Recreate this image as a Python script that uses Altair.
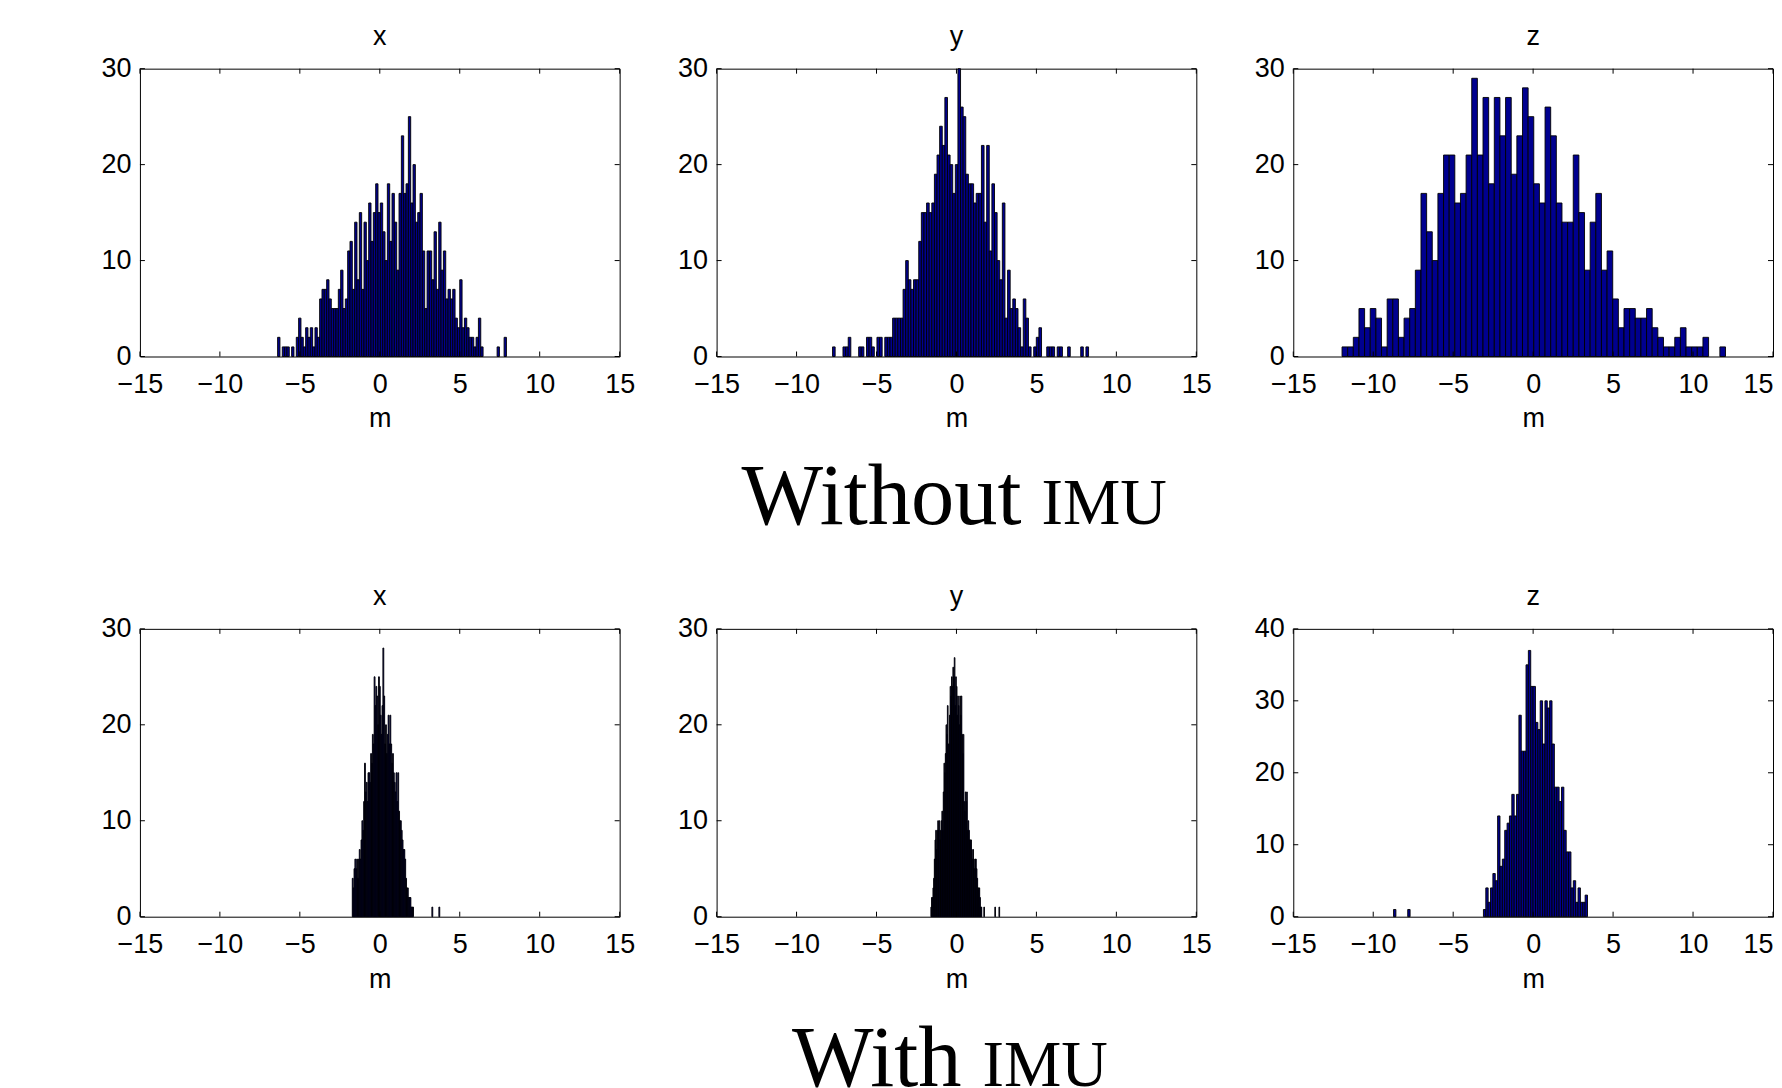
import altair as alt
import pandas as pd

# ---------------- data ----------------
X_TICKS = [-15, -10, -5, 0, 5, 10, 15]
Y_TICKS_30 = [0, 10, 20, 30]
Y_TICKS_40 = [0, 10, 20, 30, 40]
PANEL_TITLES = ["x", "y", "z", "x", "y", "z"]
ROW_TITLES = [("Without", "IMU"), ("With", "IMU")]
X_AXIS_TITLE = "m"

# top row: without IMU
TOP_X_RANGE = [-6.39, 7.92]
TOP_X_COUNTS = [2, 0, 1, 1, 1, 0, 1, 0, 2, 4, 2, 1, 3, 2, 3, 1, 3, 2, 6, 7,
                7, 8, 6, 5, 5, 5, 7, 9, 5, 6, 11, 12, 7,
                14, 8, 15, 7, 14, 10, 16, 12, 15, 18, 15, 16, 13, 10, 18, 12, 17, 14,
                9, 17, 23, 17, 18, 25, 16, 20, 14, 15, 17, 11, 5, 11,
                11, 8, 13, 7, 14, 9, 11, 6, 7, 6, 7, 4, 3, 8, 3, 4, 3, 2, 2, 1,
                2, 4, 1, 0, 0, 0, 0, 0, 0, 1, 0, 0, 2]

TOP_Y_RANGE = [-7.75, 8.26]
TOP_Y_COUNTS = [1, 0, 0, 0, 1, 1, 2, 0, 0, 0, 1, 1, 0, 2, 2, 1, 0, 2, 2, 0,
                2, 2, 2, 4, 4, 4, 4, 7, 10, 8, 7, 8,
                8, 12, 15, 15, 16, 15, 16, 19, 21, 24, 22, 27, 21, 20, 17, 20, 30, 26,
                25, 19, 18, 18, 16, 17, 17, 22, 14, 22, 11, 18, 15, 10, 8, 16, 4, 9,
                5, 6, 5, 3, 1, 6, 4, 1, 0, 1, 2, 3, 0, 0, 1, 1, 1, 0, 1, 1, 0, 0,
                1, 0, 0, 0, 0, 1, 0, 1]

TOP_Z_RANGE = [-11.95, 12.03]
TOP_Z_COUNTS = [1, 1, 2, 5, 3, 5, 4, 1, 6, 6, 2, 4, 5, 9, 17, 13, 10, 17, 21, 21,
                16, 17, 21, 29, 21, 27, 18, 27, 23, 27, 19, 23, 28, 25, 18, 16, 26, 23, 16, 14,
                14, 21, 15, 9, 14, 17, 9, 11, 6, 3, 5, 5, 4, 4, 5, 3, 2, 1, 1, 2,
                3, 1, 1, 1, 2, 0, 0, 1]

# bottom row: with IMU
BOT_X_RANGE = [-1.72, 3.75]
BOT_X_COUNTS = [4, 3, 5, 6, 5, 6, 4, 6, 7, 6, 8, 10, 9, 12, 16, 13, 14, 12, 15, 15,
                14, 17, 16, 19, 18, 25, 22, 24, 23, 20, 25, 24, 21, 19, 22, 28, 23, 18, 20, 17,
                19, 21, 18, 21, 18, 16, 17, 15, 14, 13, 15, 12, 15, 11, 10, 10, 9, 8, 7, 7,
                6, 4, 3, 3, 2, 2, 2, 1, 1, 1,
                0, 0, 0, 0, 0, 0, 0, 0, 0, 0, 0, 0, 0, 0, 0, 0, 0, 0, 0, 0, 0,
                1, 0, 0, 0, 0, 0, 0, 0, 1]

BOT_Y_RANGE = [-1.6, 2.7]
BOT_Y_COUNTS = [1, 2, 2, 3, 4, 6, 8, 9, 7, 9, 10, 9, 10, 8, 9, 10, 11, 9, 13, 16,
                15, 17, 20, 19, 22, 18, 18, 21, 24, 23, 25, 24, 26, 25, 27, 22, 25, 24, 21, 23,
                22, 20, 23, 21, 23, 19, 17, 19, 12, 11, 13, 12, 13, 9, 10, 9, 8, 8, 8, 7,
                6, 7, 6, 5, 6, 6, 5, 4, 3, 3, 3, 2, 1, 1,
                0, 0, 0, 1, 0, 0, 0, 0, 0, 0, 0, 0, 0, 0, 0, 0, 0, 0, 0, 1,
                0, 0, 0, 0, 0, 1]

BOT_Z_RANGE = [-8.73, 3.4]
BOT_Z_COUNTS = [1, 0, 0, 0, 0, 0, 1, 0, 0, 0, 0, 0, 0, 0, 0, 0, 0, 0, 0, 0,
                0, 0, 0, 0, 0, 0, 0, 0, 0, 0, 0, 0, 0, 0, 0, 0, 0, 0, 1,
                4, 2, 4, 6, 5, 14, 7, 8, 12, 13, 14, 17, 14, 17, 28, 23, 23, 35, 37, 32,
                32, 27, 26, 30, 24, 30, 29, 30, 24, 18, 18, 16, 18, 12, 9, 9, 4, 5, 2, 4,
                2, 2, 3]

PANELS = [
    (TOP_X_COUNTS, TOP_X_RANGE, 30, Y_TICKS_30),
    (TOP_Y_COUNTS, TOP_Y_RANGE, 30, Y_TICKS_30),
    (TOP_Z_COUNTS, TOP_Z_RANGE, 30, Y_TICKS_30),
    (BOT_X_COUNTS, BOT_X_RANGE, 30, Y_TICKS_30),
    (BOT_Y_COUNTS, BOT_Y_RANGE, 30, Y_TICKS_30),
    (BOT_Z_COUNTS, BOT_Z_RANGE, 40, Y_TICKS_40),
]

# ---------------- layout / style ----------------
W, H = 480, 288
TL = 5
SANS = "Liberation Sans"
SERIF = "Liberation Serif"
FS = 27
BAR_FILL = "#00008F"


def panel(idx):
    counts, rng, ymax, yticks = PANELS[idx]
    n = len(counts)
    step = (rng[1] - rng[0]) / n
    df = pd.DataFrame({
        "lo": [rng[0] + i * step for i in range(n)],
        "hi": [rng[0] + (i + 1) * step for i in range(n)],
        "count": counts,
    })
    df = df[df["count"] > 0]
    xs = alt.Scale(domain=[-15, 15], nice=False, zero=False)
    ys = alt.Scale(domain=[0, ymax], nice=False)
    last_col = idx in (2, 5)
    label_align = ({"condition": {"test": "datum.value == 15", "value": "right"},
                    "value": "center"} if last_col else "center")
    xaxis = alt.Axis(values=X_TICKS, title=X_AXIS_TITLE, ticks=False, domain=False,
                     grid=False, labelPadding=15, titlePadding=8.5, labelFlush=False,
                     labelOverlap=False, labelAlign=label_align,
                     labelFont=SANS, labelFontSize=FS, labelColor="black",
                     titleFont=SANS, titleFontSize=FS, titleFontWeight="normal",
                     titleColor="black")
    yaxis = alt.Axis(values=yticks, title=None, ticks=False, domain=False, grid=False,
                     labelPadding=9, labelFlush=False, labelOverlap=False,
                     labelFont=SANS, labelFontSize=FS, labelColor="black")
    bars = alt.Chart(df).mark_rect(fill=BAR_FILL, stroke="black", strokeWidth=0.9).encode(
        x=alt.X("lo:Q", scale=xs, axis=xaxis),
        x2="hi:Q",
        y=alt.Y("count:Q", scale=ys, axis=yaxis),
        y2=alt.datum(0),
    )
    xt = alt.Chart(pd.DataFrame({"lo": X_TICKS}))
    bt = xt.mark_rule(color="black", strokeWidth=1).encode(
        x=alt.X("lo:Q", scale=xs, axis=xaxis), y=alt.value(H), y2=alt.value(H - TL))
    tt = xt.mark_rule(color="black", strokeWidth=1).encode(
        x=alt.X("lo:Q", scale=xs, axis=xaxis), y=alt.value(0), y2=alt.value(TL))
    yt = alt.Chart(pd.DataFrame({"count": yticks}))
    lt = yt.mark_rule(color="black", strokeWidth=1).encode(
        y=alt.Y("count:Q", scale=ys, axis=yaxis), x=alt.value(0), x2=alt.value(TL))
    rt = yt.mark_rule(color="black", strokeWidth=1).encode(
        y=alt.Y("count:Q", scale=ys, axis=yaxis), x=alt.value(W), x2=alt.value(W - TL))
    ttl = alt.Chart(pd.DataFrame({"t": [PANEL_TITLES[idx]]})).mark_text(
        font=SANS, fontSize=FS, align="center", baseline="alphabetic", color="black"
    ).encode(text="t:N", x=alt.value(W / 2), y=alt.value(-24))
    layers = [bars, bt, tt, lt, rt, ttl]
    if idx in (1, 4):
        word, caps = ROW_TITLES[0 if idx == 1 else 1]
        tdf = pd.DataFrame({"word": [word], "caps": [caps]})
        wx = 305 if idx == 1 else 245
        cx = 325 if idx == 1 else 266
        ty = 455.6 if idx == 1 else 457.5
        layers.append(alt.Chart(tdf).mark_text(
            font=SERIF, fontSize=86.5, align="right", baseline="alphabetic", color="black"
        ).encode(text="word:N", x=alt.value(wx), y=alt.value(ty)))
        layers.append(alt.Chart(tdf).mark_text(
            font=SERIF, fontSize=64.5, align="left", baseline="alphabetic", color="black"
        ).encode(text="caps:N", x=alt.value(cx), y=alt.value(ty)))
    return alt.layer(*layers).properties(width=W, height=H)


chart = alt.ConcatChart(
    concat=[panel(i) for i in range(6)],
    columns=3,
    spacing={"row": 272.5, "column": 97},
    bounds="flush",
).properties(
    padding={"left": 92, "top": 13.4, "right": 0, "bottom": 0},
    background="white",
).configure_view(
    stroke="black", strokeWidth=1
)

chart.save("out.html", embed_options={"renderer": "svg", "actions": False})
